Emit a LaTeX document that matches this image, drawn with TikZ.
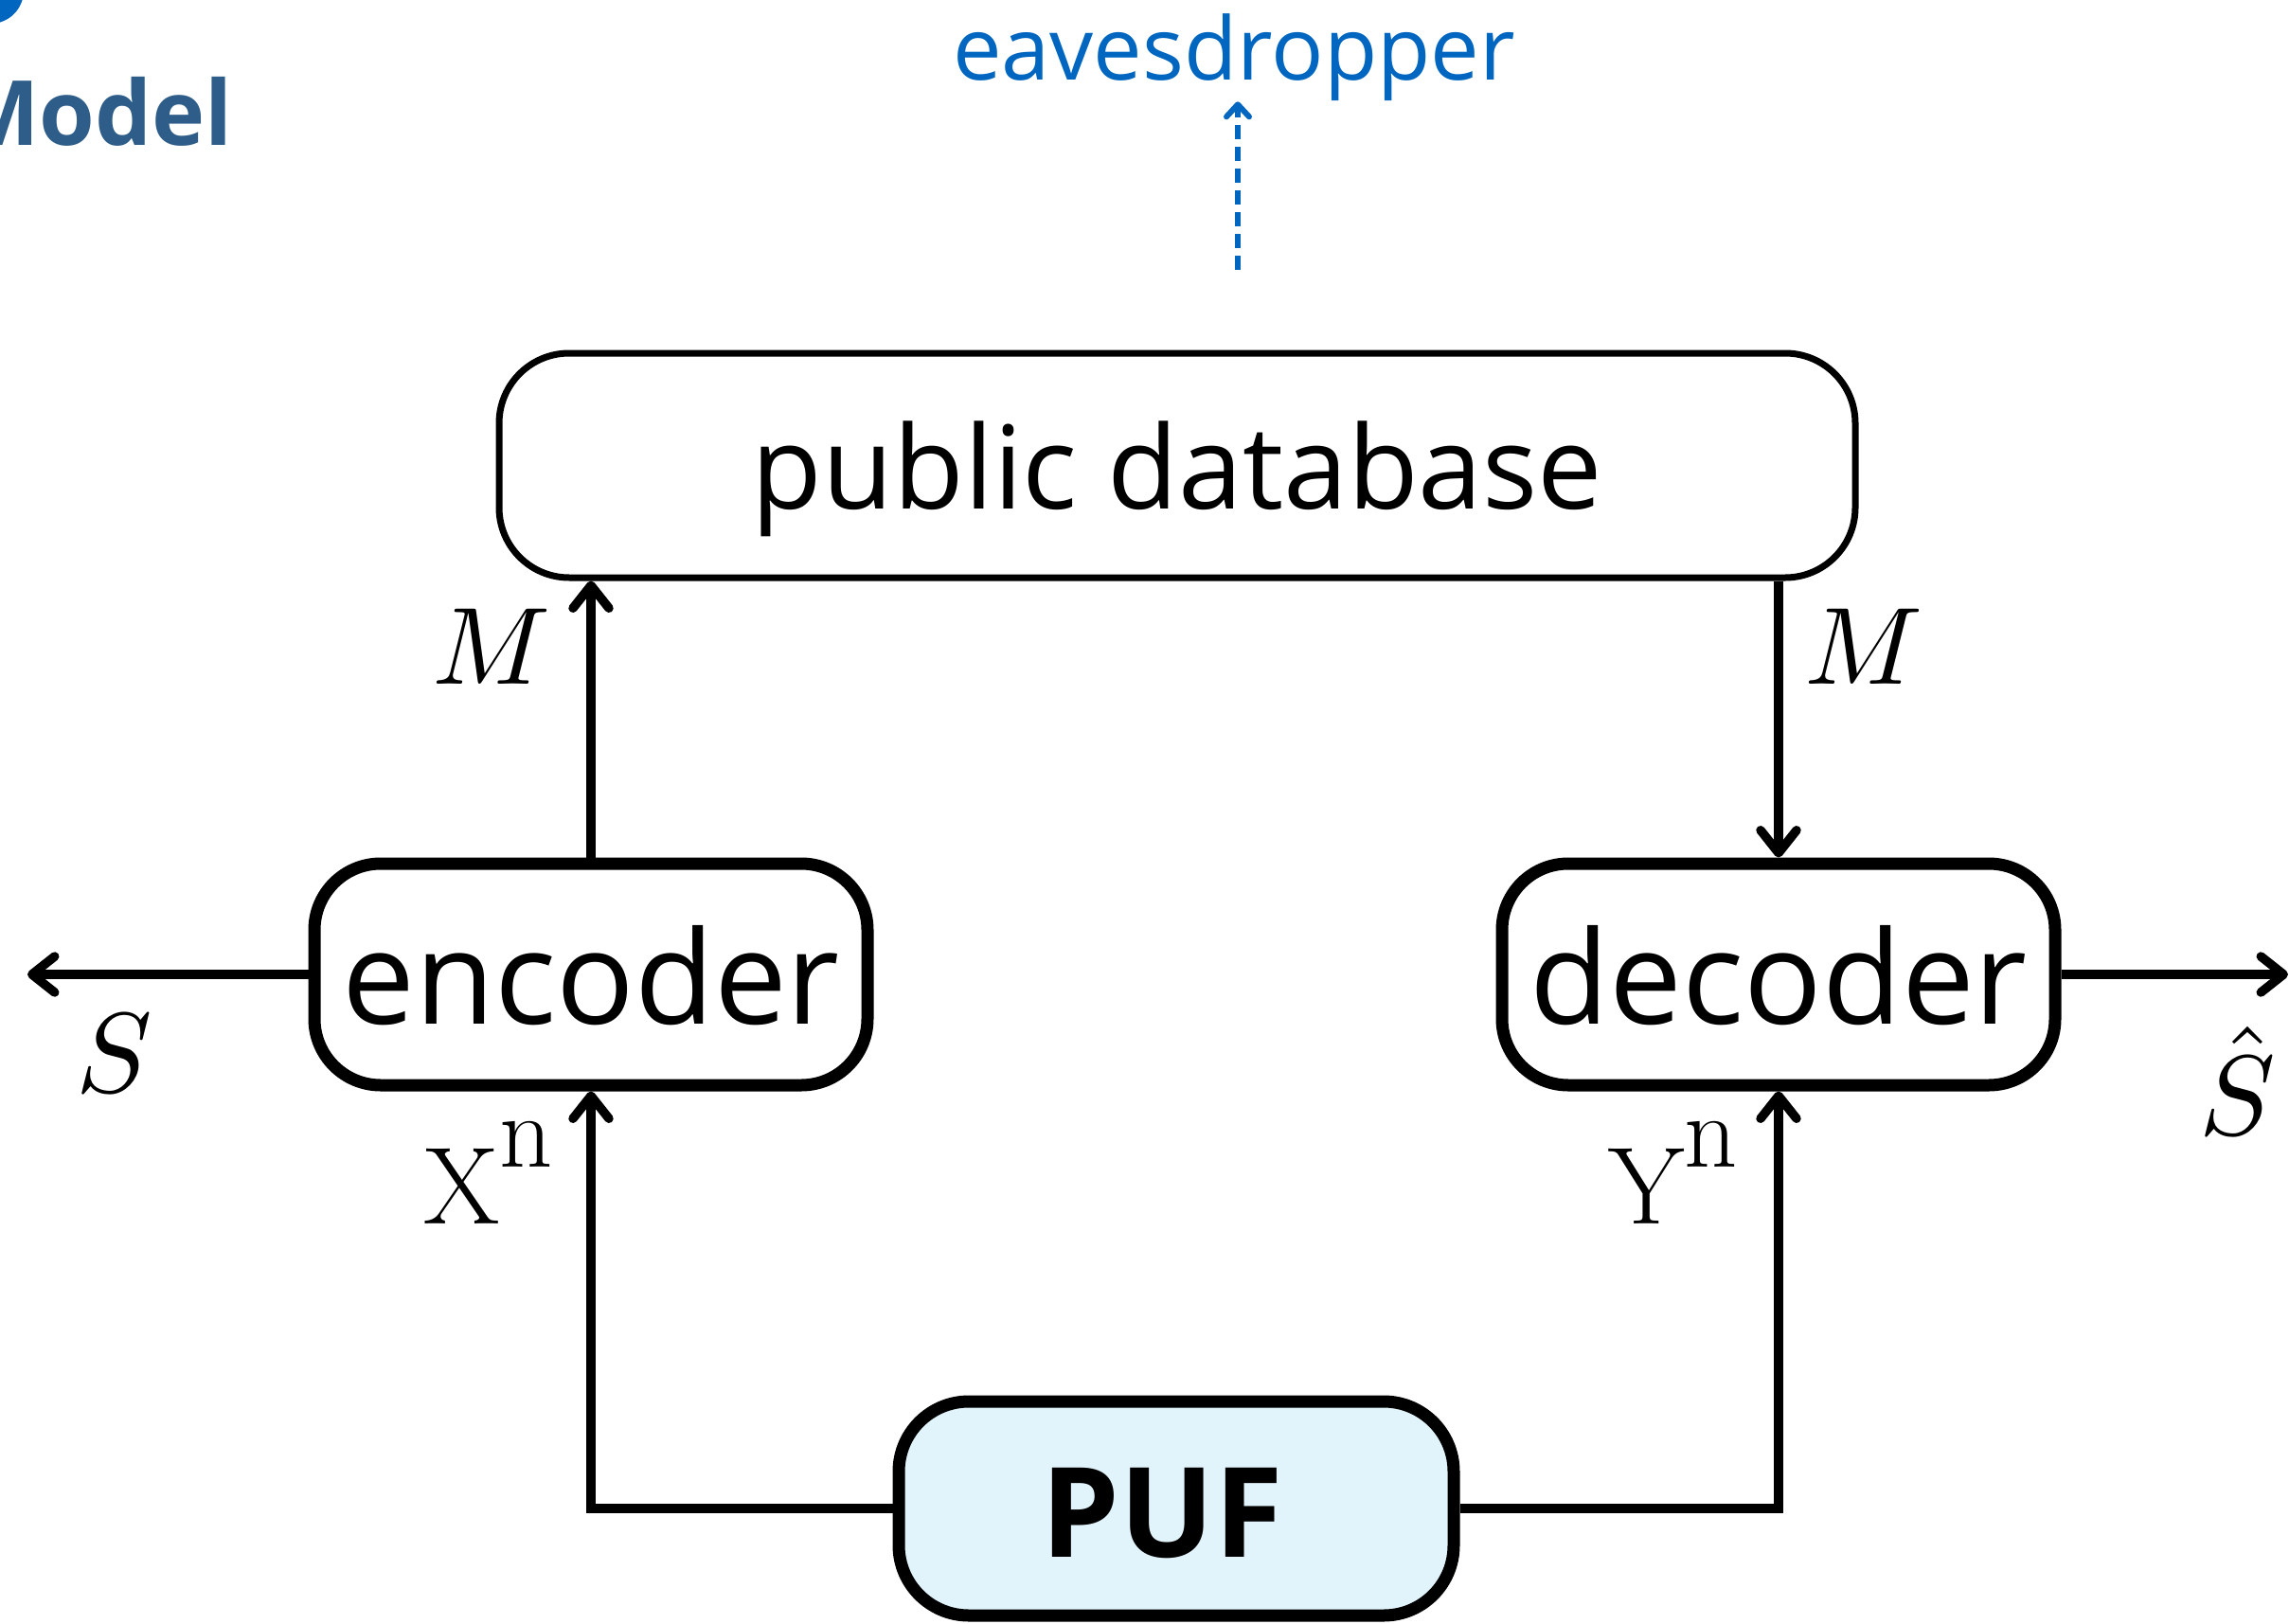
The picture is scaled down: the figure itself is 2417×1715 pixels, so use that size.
\documentclass[tikz,border=0pt]{standalone}
\usepackage{fontspec}
\newfontfamily\osans{Open Sans}
\usetikzlibrary{arrows.meta}
\definecolor{eblue}{HTML}{0066C0}
\definecolor{mblue}{HTML}{2D5D88}
\definecolor{pufblue}{HTML}{E2F4FB}
\begin{document}
\begin{tikzpicture}[x=1pt,y=-1pt,
  thickbox/.style={draw, line width=13pt, rounded corners=70pt, minimum width=584pt, minimum height=234pt, inner sep=0pt, text depth=0pt, font=\osans\fontsize{137pt}{145pt}\selectfont},
  dbbox/.style={draw, line width=7pt, rounded corners=74pt, minimum width=1432pt, minimum height=237pt, inner sep=0pt, text depth=0pt, font=\osans\fontsize{122pt}{130pt}\selectfont},
  pufbox/.style={draw, fill=pufblue, line width=13pt, rounded corners=74pt, minimum width=586pt, minimum height=226pt, inner sep=0pt, text depth=0pt, font=\osans\bfseries\fontsize{132pt}{140pt}\selectfont},
  arr/.style={line width=9.5pt, -{Straight Barb[length=24pt,width=38pt,round]}},
  dasharr/.style={draw=eblue, line width=6pt, dash pattern=on 15pt off 8pt, -{Straight Barb[length=13pt,width=24pt,round]}},
  lab/.style={inner sep=0pt, font=\fontsize{116pt}{120pt}\selectfont}]
\useasboundingbox (0,0) rectangle (2417,1715);
% header fragments
\fill[eblue] (-10,-10) circle (35pt);
\node[anchor=base east, inner sep=0pt, text=mblue, font=\osans\bfseries\fontsize{95pt}{100pt}\selectfont] (model) at (246,154) {Model};
\node[anchor=base, inner sep=0pt, text=eblue, font=\osans\fontsize{92pt}{96pt}\selectfont] (eaves) at (1303,85) {eavesdropper};
\coordinate (tap) at (1307,285);
\draw[dasharr] (tap) -- (tap |- eaves.south);
% boxes
\node[dbbox] (db) at (1243,491.5) {public database};
\node[thickbox] (enc) at (624,1029) {encoder};
\node[thickbox] (dec) at (1878,1029) {decoder};
\node[pufbox] (puf) at (1242,1593) {\raisebox{-9pt}{PUF}\hspace*{30pt}};
% connectors
\draw[arr] (enc.north) -- (enc.north |- db.south);
\draw[arr] (db.south -| dec.north) -- (dec.north);
\coordinate (sEnd) at (29,1029);
\coordinate (shEnd) at (2416,1029);
\draw[arr] (enc.west) -- (sEnd);
\draw[arr] (dec.east) -- (shEnd);
\draw[arr] (puf.west) -| (enc.south);
\draw[arr] (puf.east) -| (dec.south);
% labels
\node[inner sep=0pt, anchor=base] (mL) at (519,722) {\scalebox{11.6}{$M$}};
\node[inner sep=0pt, anchor=base] (mR) at (1968,722) {\scalebox{11.6}{$M$}};
\node[inner sep=0pt, anchor=base] (sL) at (121,1153) {\scalebox{12}{$S$}};
\node[inner sep=0pt, anchor=base] (sR) at (2363,1198) {\scalebox{12}{$\hat{S}$}};
\node[lab, anchor=base west] (xn) at (447,1292) {X\raisebox{60pt}{\fontsize{110pt}{110pt}\selectfont n}};
\node[lab, anchor=base west] (yn) at (1698,1292) {Y\raisebox{60pt}{\fontsize{110pt}{110pt}\selectfont n}};
\end{tikzpicture}
\end{document}
